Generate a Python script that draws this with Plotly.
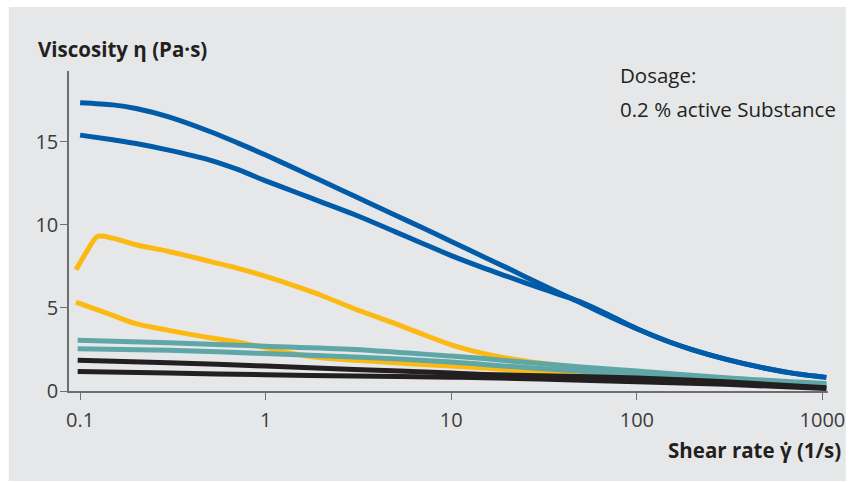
import plotly.graph_objects as go

# Flow curves: viscosity (Pa·s) versus shear rate (1/s), two samples per thickener
blue_a_x = [0.1, 0.15, 0.2, 0.3, 0.5, 0.7, 1, 1.5, 2, 3, 5, 7, 10, 15, 20, 30, 50, 70,
            100, 150, 200, 300, 500, 700, 1000, 1050]
blue_a_y = [17.35, 17.22, 17.0, 16.5, 15.62, 14.95, 14.2, 13.3, 12.65, 11.73, 10.58, 9.82,
            9.0, 8.07, 7.41, 6.45, 5.3, 4.52, 3.75, 2.95, 2.48, 1.92, 1.35, 1.06, 0.85, 0.82]

blue_b_x = [0.1, 0.15, 0.2, 0.3, 0.5, 0.7, 1, 1.5, 2, 3, 5, 7, 10, 15, 20, 30, 50, 70,
            100, 150, 200, 300, 500, 700, 1000, 1050]
blue_b_y = [15.4, 15.12, 14.9, 14.5, 13.9, 13.35, 12.65, 11.9, 11.37, 10.62, 9.58, 8.88,
            8.15, 7.4, 6.9, 6.2, 5.35, 4.6, 3.75, 2.95, 2.48, 1.92, 1.35, 1.06, 0.85, 0.82]

yellow_a_x = [0.095, 0.11, 0.124, 0.15, 0.2, 0.3, 0.5, 0.7, 1, 1.5, 2, 3, 5, 7, 10, 15,
              20, 30, 50, 100, 300, 1050]
yellow_a_y = [7.3, 8.5, 9.3, 9.2, 8.8, 8.4, 7.8, 7.4, 6.9, 6.25, 5.75, 4.95, 4.05, 3.42,
              2.78, 2.25, 1.98, 1.68, 1.38, 1.0, 0.6, 0.3]

yellow_b_x = [0.095, 0.15, 0.2, 0.3, 0.5, 0.7, 1, 1.5, 2, 3, 5, 10, 15, 30, 50, 100, 300, 1050]
yellow_b_y = [5.35, 4.55, 4.05, 3.65, 3.2, 2.95, 2.6, 2.2, 2.0, 1.85, 1.7, 1.5, 1.38, 1.15,
              1.0, 0.75, 0.5, 0.25]

teal_a_x = [0.097, 0.3, 1, 3, 10, 15, 30, 50, 100, 300, 1050]
teal_a_y = [3.05, 2.9, 2.7, 2.5, 2.1, 1.95, 1.65, 1.45, 1.2, 0.8, 0.45]

teal_b_x = [0.097, 0.3, 1, 3, 10, 15, 30, 100, 300, 1050]
teal_b_y = [2.55, 2.45, 2.25, 2.05, 1.75, 1.6, 1.35, 1.0, 0.7, 0.4]

black_a_x = [0.097, 0.3, 1, 3, 10, 15, 30, 100, 300, 1050]
black_a_y = [1.85, 1.7, 1.5, 1.3, 1.08, 1.0, 0.92, 0.78, 0.55, 0.2]

black_b_x = [0.097, 0.3, 1, 3, 10, 15, 30, 100, 300, 1050]
black_b_y = [1.17, 1.08, 0.98, 0.9, 0.83, 0.8, 0.72, 0.55, 0.4, 0.15]

x_tick_vals = [0.1, 1, 10, 100, 1000]
x_tick_text = ["0.1", "1", "10", "100", "1000"]
y_tick_vals = [0, 5, 10, 15]

BLUE = "#005ba8"
YELLOW = "#fdb913"
TEAL = "#5ea7a6"
BLACK = "#231f20"
PANEL = "#e6e7e8"
AXIS = "#6d6e71"
TEXT = "#231f20"
FONT = "Open Sans"
FS = 20.5

W, H = 857, 482
L, R, T, B = 69, 19, 71, 91  # plot area margins in px


def px_to_paper(px, py):
    """Convert window pixels to paper coordinates of the plot area."""
    pw = W - L - R
    ph = H - T - B
    return (px - L) / pw, (H - B - py) / ph


fig = go.Figure()

series = [
    (yellow_a_x, yellow_a_y, YELLOW),
    (yellow_b_x, yellow_b_y, YELLOW),
    (teal_a_x, teal_a_y, TEAL),
    (teal_b_x, teal_b_y, TEAL),
    (black_a_x, black_a_y, BLACK),
    (black_b_x, black_b_y, BLACK),
    (blue_b_x, blue_b_y, BLUE),
    (blue_a_x, blue_a_y, BLUE),
]
for xs, ys, col in series:
    fig.add_trace(go.Scatter(
        x=xs, y=ys, mode="lines",
        line=dict(color=col, width=5, shape="spline", smoothing=0.8),
        hoverinfo="skip", showlegend=False,
    ))

# grey panel behind the whole chart
x0, y0 = px_to_paper(8, 481)
x1, y1 = px_to_paper(856, 7)
fig.add_shape(type="rect", xref="paper", yref="paper", x0=x0, y0=y0, x1=x1, y1=y1,
              fillcolor=PANEL, line=dict(width=0), layer="below")


def label(px, py, text, anchor):
    ax, ay = px_to_paper(px, py)
    fig.add_annotation(xref="paper", yref="paper", x=ax, y=ay, xanchor=anchor,
                       yanchor="middle", text=text, showarrow=False,
                       font=dict(family=FONT, size=FS, color=TEXT))


label(36, 49, "<b>Viscosity η (Pa·s)</b>", "left")
label(853, 449.5, "<b>Shear rate γ̇ (1/s)</b>", "right")
label(625, 74.5, "Dosage:", "left")
label(625, 109, "0.2 % active Substance", "left")

fig.update_xaxes(
    type="log", range=[-1.06, 3.03],
    tickvals=x_tick_vals, ticktext=x_tick_text,
    ticks="outside", ticklen=7, tickwidth=1, tickcolor=AXIS,
    showline=True, linecolor=AXIS, linewidth=1.5,
    showgrid=False, zeroline=False, ticklabelstandoff=3,
    tickfont=dict(family=FONT, size=20, color="#3c3c3c"),
)
fig.update_yaxes(
    range=[0, 19.26],
    tickvals=y_tick_vals,
    ticks="outside", ticklen=7, tickwidth=1, tickcolor=AXIS,
    showline=True, linecolor=AXIS, linewidth=1.5,
    showgrid=False, zeroline=False, ticklabelstandoff=-2,
    tickfont=dict(family=FONT, size=20, color="#3c3c3c"),
)

fig.update_layout(
    width=W, height=H,
    margin=dict(l=L, r=R, t=T, b=B, pad=0),
    paper_bgcolor="white", plot_bgcolor=PANEL,
    showlegend=False,
)

fig.write_html("out.html")
